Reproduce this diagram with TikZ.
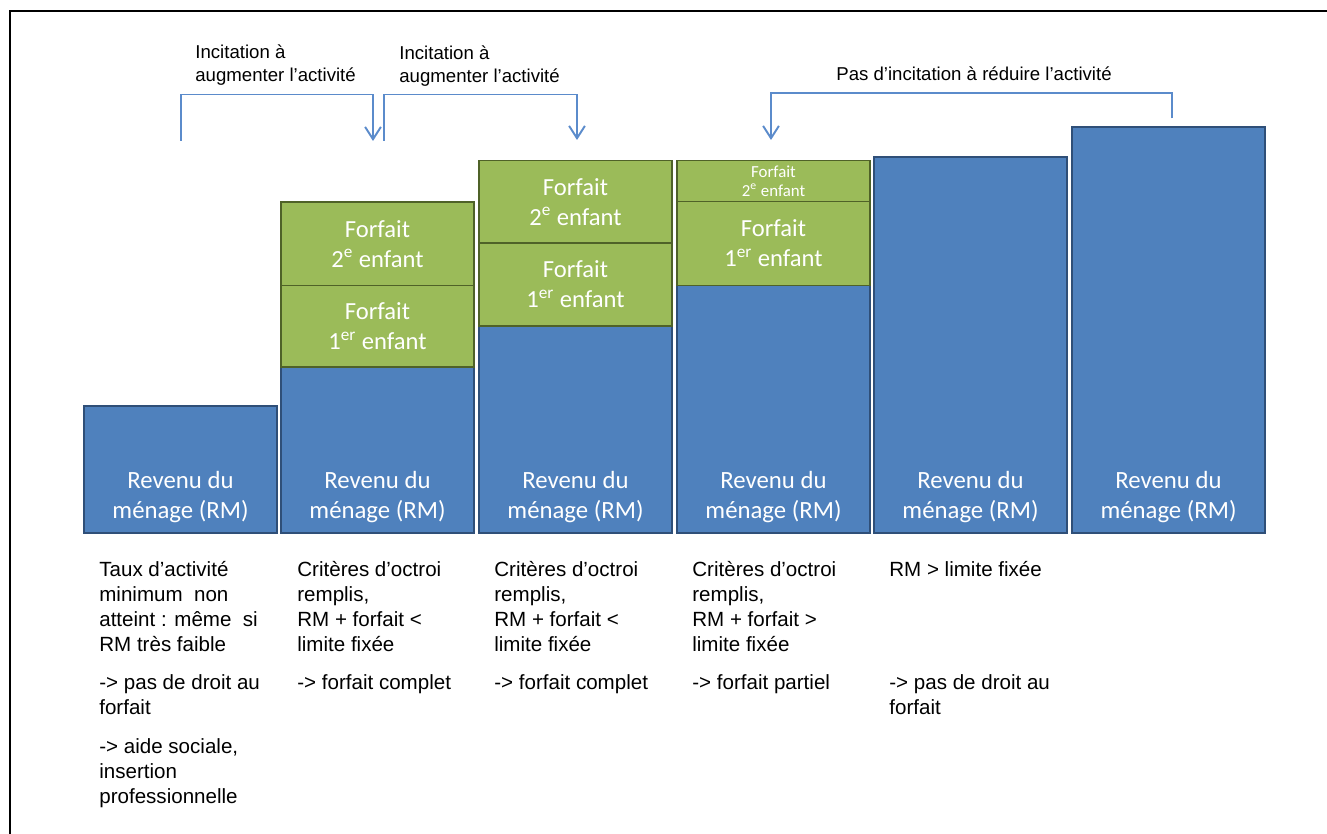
\documentclass[tikz,border=0pt]{standalone}
\usepackage{fontspec}
\setmainfont{Liberation Sans}
\newfontfamily\calibri{Carlito}
\usepackage{tikz}
\usetikzlibrary{arrows.meta}
\definecolor{rmblue}{HTML}{4F81BD}
\definecolor{rmedge}{HTML}{2F4F78}
\definecolor{ffgreen}{HTML}{9BBB59}
\definecolor{ffedge}{HTML}{4F6228}
\definecolor{incblue}{HTML}{5B8BCB}
\tikzset{
rmbox/.style={fill=rmblue,draw=rmedge,line width=0.7pt},
ffbox/.style={fill=ffgreen,draw=ffedge,line width=0.7pt},
rmtext/.style={text=white,align=center,font=\calibri\fontsize{14.1}{17}\selectfont},
fftext/.style={text=white,align=center,font=\calibri\fontsize{14}{17}\selectfont},
ffsmall/.style={text=white,align=center,font=\calibri\fontsize{9.6}{10.8}\selectfont},
incit/.style={draw=incblue,line width=1.1pt,-{Straight Barb[length=7pt,width=9pt]}},
headtext/.style={anchor=north west,inner sep=0pt,align=left,font=\fontsize{10.6}{13.6}\selectfont},
crit/.style={anchor=north west,inner sep=0pt,align=left,font=\fontsize{11.7}{14.2}\selectfont}
}
\newcommand{\revenu}[3]{
\filldraw[rmbox] (#1,#2) rectangle (#1+193,533);
\node[rmtext] (#3) at (#1+96.5,497) {Revenu du\\ménage (RM)};
}
\newcommand{\forfait}[6][fftext]{
\filldraw[ffbox] (#2,#3) rectangle (#2+193,#4);
\node[#1] (#5) at (#2+96.5,{(#3+#4)/2}) {Forfait\\#6};
}

\begin{document}
\begin{tikzpicture}[x=0.02cm,y=-0.02cm]
\useasboundingbox (0,0) rectangle (1327,834);
\draw[line width=1.3pt] (10,834) -- (10,11) -- (1327,11);
\revenu{84}{406}{rm1};
\revenu{281}{367}{rm2};
\forfait{281}{285.5}{367}{ffa2}{1\textsuperscript{er} enfant};
\forfait{281}{202}{285.5}{ffb2}{2\textsuperscript{e} enfant};
\revenu{479}{326}{rm3};
\forfait{479}{243}{326}{ffa3}{1\textsuperscript{er} enfant};
\forfait{479}{160.5}{243}{ffb3}{2\textsuperscript{e} enfant};
\revenu{677}{285.5}{rm4};
\forfait{677}{201.5}{285.5}{ffa4}{1\textsuperscript{er} enfant};
\forfait[ffsmall]{677}{160.5}{201.5}{ffb4}{2\textsuperscript{e} enfant};
\revenu{874}{157}{rm5};
\revenu{1072}{127}{rm6};
\coordinate (s1) at (181,141);
\coordinate (e1) at (373,141);
\coordinate (s2) at (384,141);
\coordinate (e2) at (577,140);
\coordinate (s3) at (1172,118.5);
\coordinate (e3) at (771,140);
\draw[incit] (s1) -- ++(0,-46.5) -| (e1);
\draw[incit] (s2) -- ++(0,-46.5) -| (e2);
\draw[incit] (s3) -- ++(0,-25.5) -| (e3);
\node[headtext] (inc1) at (195,44) {Incitation à\\augmenter l’activité};
\node[headtext] (inc2) at (399,45) {Incitation à\\augmenter l’activité};
\node[headtext,anchor=north] (inc3) at (974,66) {Pas d’incitation à réduire l’activité};
\node[crit] (crit1) at (99,561) {Taux d’activité\\minimum~ non\\atteint : même~ si\\RM très faible};
\node[crit] (droit1) at (99,674.5) {-> pas de droit au\\forfait};
\node[crit] (aide1) at (99,738.5) {-> aide sociale,\\insertion\\professionnelle};
\node[crit] (crit2) at (297,561) {Critères d’octroi\\remplis,\\RM + forfait <\\limite fixée};
\node[crit] (droit2) at (297,674.5) {-> forfait complet};
\node[crit] (crit3) at (494,561) {Critères d’octroi\\remplis,\\RM + forfait <\\limite fixée};
\node[crit] (droit3) at (494,674.5) {-> forfait complet};
\node[crit] (crit4) at (692,561) {Critères d’octroi\\remplis,\\RM + forfait >\\limite fixée};
\node[crit] (droit4) at (692,674.5) {-> forfait partiel};
\node[crit] (crit5) at (889,561) {RM > limite fixée};
\node[crit] (droit5) at (889,674.5) {-> pas de droit au\\forfait};
\end{tikzpicture}
\end{document}
